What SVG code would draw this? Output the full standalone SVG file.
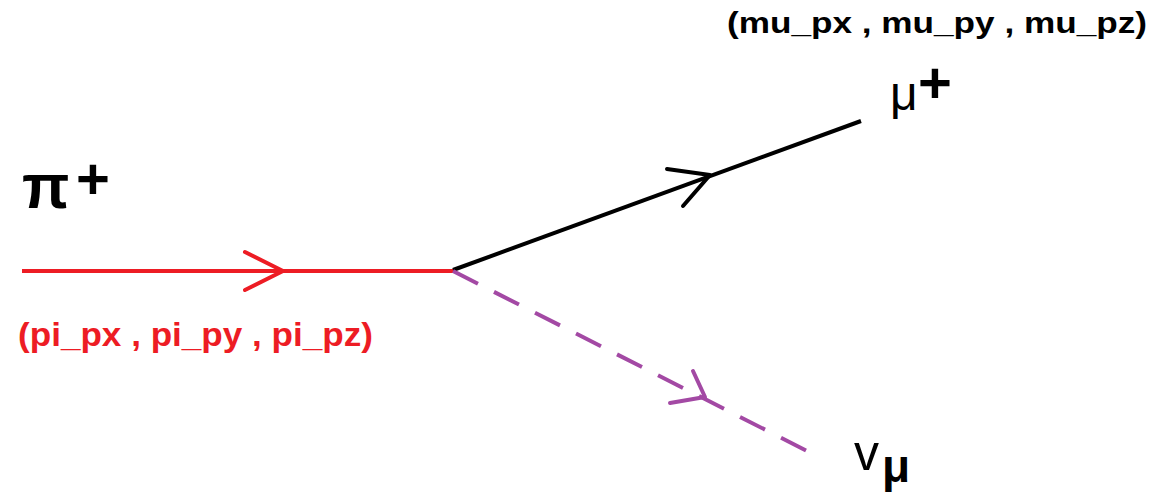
<svg xmlns="http://www.w3.org/2000/svg" width="1158" height="493" viewBox="0 0 1158 493">
<style>
.lbl{font-family:"Liberation Sans",Arial,sans-serif;font-weight:bold}
.sym{font-family:"Liberation Sans",Arial,sans-serif;fill:#000}
.plus{font-family:"Liberation Sans",Arial,sans-serif;font-weight:bold;font-size:58px;fill:#000}
.chev{fill:none;stroke-width:4;stroke-linecap:round;stroke-linejoin:round}
</style>
<rect width="1158" height="493" fill="#fff"/>
<g id="connectors">
<g id="pion-line">
<line x1="22" y1="271" x2="453" y2="271" stroke="#ed1c24" stroke-width="4"/>
<polyline class="chev" stroke="#ed1c24" points="245,252 283,271 245,290"/>
</g>
<g id="muon-line">
<line x1="453" y1="270" x2="861" y2="121" stroke="#000" stroke-width="4"/>
<polyline class="chev" stroke="#000" points="667,169 710,175 683,206"/>
</g>
<g id="neutrino-line">
<line x1="453" y1="271" x2="809" y2="452" stroke="#a349a4" stroke-width="4" stroke-dasharray="28,18"/>
<polyline class="chev" stroke="#a349a4" points="693,371 705,397 670,403"/>
</g>
</g>
<g id="pion">
<text class="sym" x="22" y="208" font-size="62" font-weight="bold" font-family="DejaVu Sans" transform="translate(0,-6) scale(1,1.03)">π</text>
<text class="plus" x="76" y="199">+</text>
<text class="lbl" x="18" y="346" font-size="33" fill="#ed1c24" textLength="355" lengthAdjust="spacingAndGlyphs">(pi_px , pi_py , pi_pz)</text>
</g>
<g id="muon">
<text class="sym" x="890" y="110" font-size="48">μ</text>
<text class="plus" x="918" y="103">+</text>
<text class="lbl" x="727" y="33" font-size="29" fill="#000" textLength="420" lengthAdjust="spacingAndGlyphs">(mu_px , mu_py , mu_pz)</text>
</g>
<g id="neutrino">
<text class="sym" x="854" y="470" font-size="50">v</text>
<text class="sym" x="882" y="482" font-size="46" font-weight="bold" font-family="DejaVu Sans">μ</text>
</g>
</svg>
